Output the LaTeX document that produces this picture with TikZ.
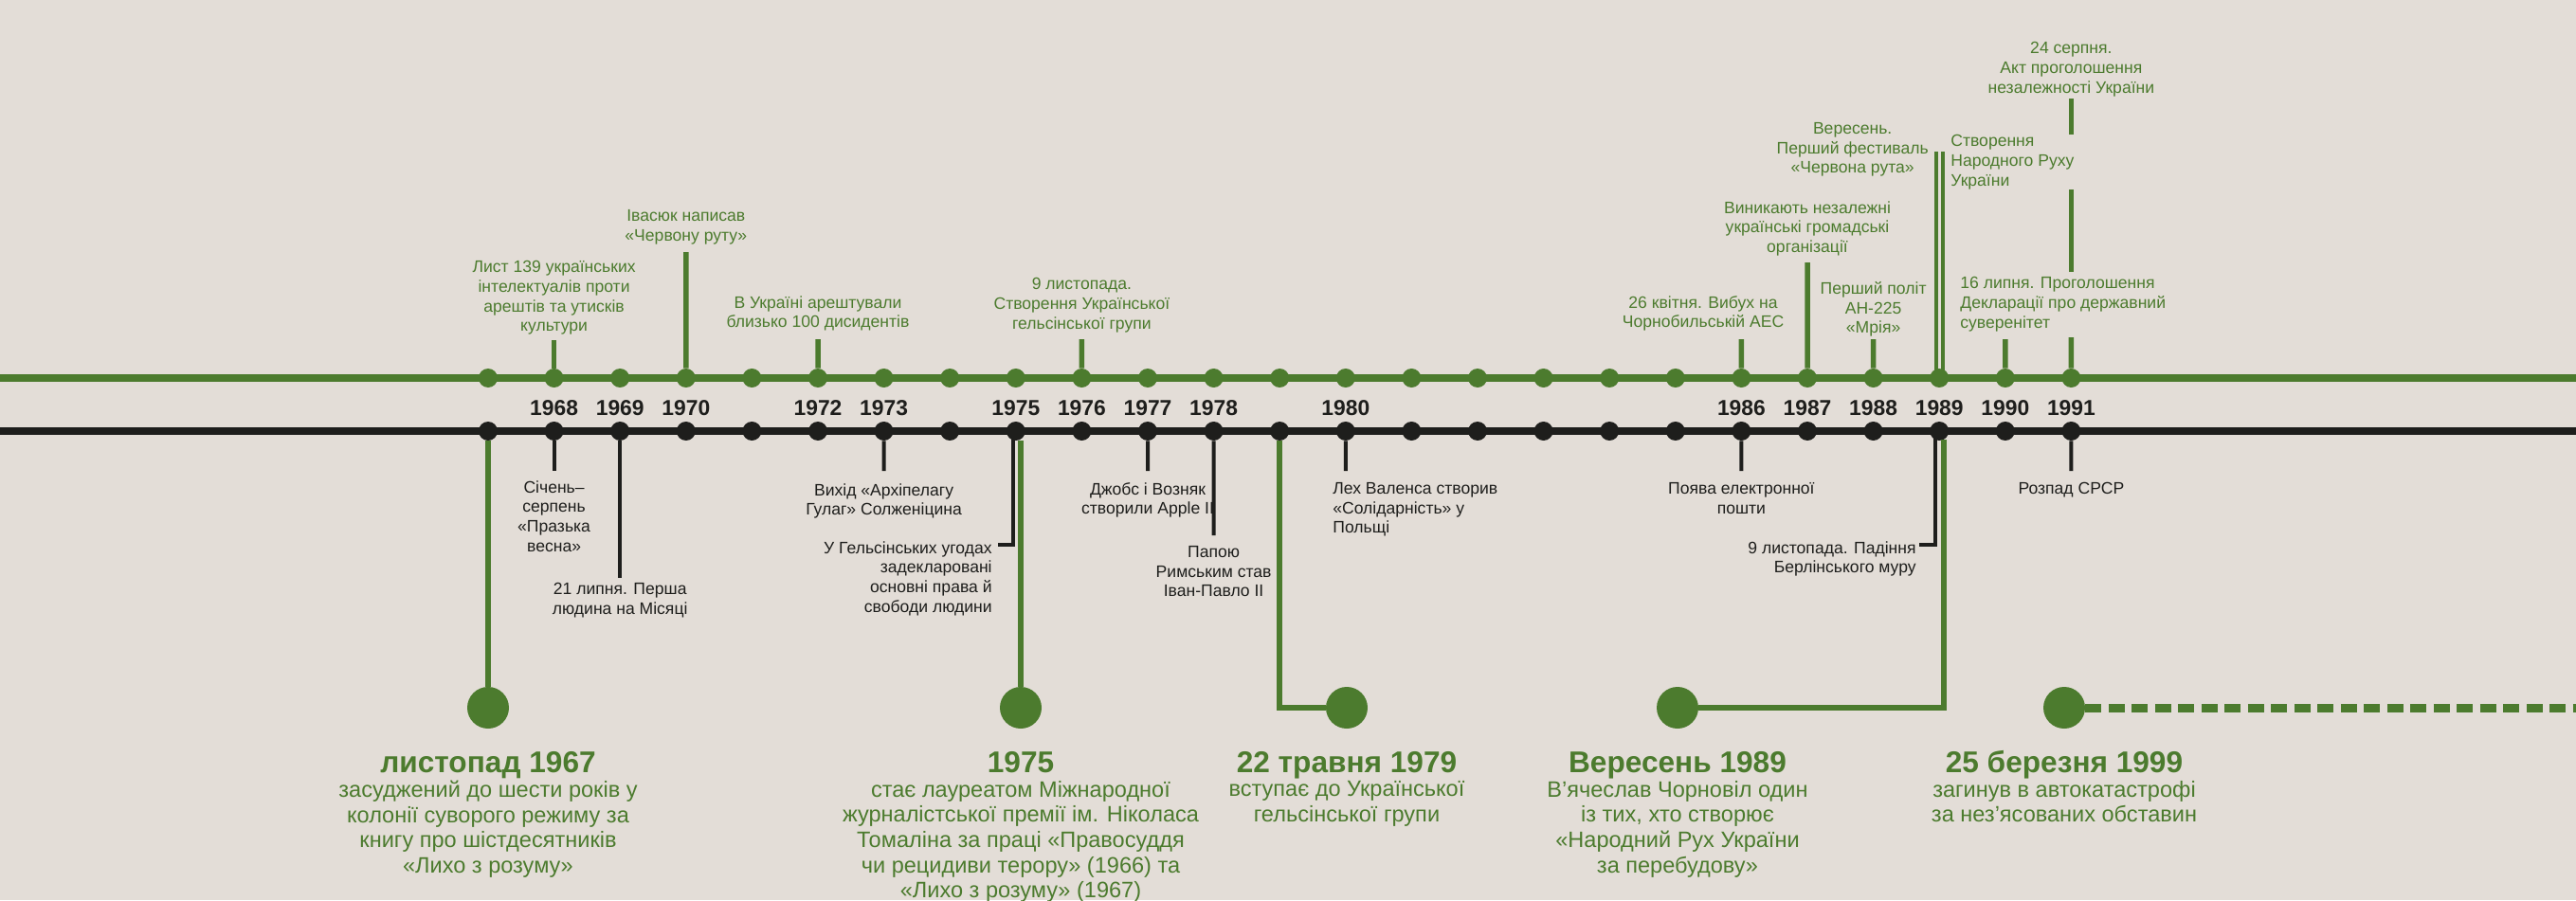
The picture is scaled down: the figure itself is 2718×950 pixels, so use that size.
\documentclass[tikz,border=0pt]{standalone}
\usepackage{fontspec}
\setmainfont{Liberation Sans}
\usepackage{xcolor}
\usepackage{tikz}
\usetikzlibrary{positioning,calc}
\definecolor{paper}{RGB}{227,221,215}
\definecolor{leaf}{RGB}{76,123,46}
\definecolor{soot}{RGB}{30,30,28}
\tikzstyle{gdot} = [circle, fill=leaf, inner sep=0pt, minimum size=4mm]
\tikzstyle{bdot} = [circle, fill=soot, inner sep=0pt, minimum size=4mm]
\tikzstyle{bigdot} = [circle, fill=leaf, inner sep=0pt, minimum size=8.8mm]
\tikzstyle{gline} = [draw=leaf, line width=1.7mm]
\tikzstyle{bline} = [draw=soot, line width=1.7mm]
\tikzstyle{gstem} = [draw=leaf, line width=1.1mm]
\tikzstyle{gtwin} = [draw=leaf, line width=0.65mm]
\tikzstyle{bstem} = [draw=soot, line width=0.8mm]
\tikzstyle{link} = [draw=leaf, line width=1.2mm]
\tikzstyle{dashlink} = [draw=leaf, line width=1.8mm, dash pattern=on 3.4mm off 1.5mm]
\tikzstyle{gnote} = [text=leaf, font=\fontsize{10}{11.8}\selectfont, inner sep=0pt, anchor=north, align=center]
\tikzstyle{bnote} = [text=soot, font=\fontsize{10}{11.8}\selectfont, inner sep=0pt, anchor=north, align=center]
\tikzstyle{yearlbl} = [text=soot, font=\bfseries\fontsize{13}{15}\selectfont, inner sep=0pt, anchor=base]
\tikzstyle{bighead} = [text=leaf, font=\bfseries\fontsize{18}{21}\selectfont, inner sep=0pt, anchor=base]
\tikzstyle{story} = [text=leaf, font=\fontsize{13.4}{15.1}\selectfont, inner sep=0pt, anchor=north, align=center]

\begin{document}
\begin{tikzpicture}[x=0.02cm, y=-0.02cm]
    \fill[paper] (0,0) rectangle (2718,950);
    \useasboundingbox (0,0) rectangle (2718,950);
    \coordinate (gl) at (0,399);
    \coordinate (gr) at (2718,399);
    \coordinate (bl) at (0,455);
    \coordinate (br) at (2718,455);
    \draw[gline] (gl) -- (gr);
    \draw[bline] (bl) -- (br);
    \foreach \yr in {1967,...,1991} {
        \node[gdot] (g\yr) at ({515+69.6*(\yr-1967)},399) {};
        \node[bdot] (b\yr) at ({515+69.6*(\yr-1967)},455) {};
    }
    \foreach \yr in {1968,1969,1970,1972,1973,1975,1976,1977,1978,1980,1986,1987,1988,1989,1990,1991}
        \node[yearlbl] (y\yr) at ({515+69.6*(\yr-1967)},438) {\yr};

    \node[gnote] (n1968) at (584.6,275) {Лист 139 українських\\інтелектуалів проти\\арештів та утисків\\культури};
    \coordinate (tu1968) at (584.6,359);
    \draw[gstem] (g1968) -- (tu1968);
    \node[gnote] (n1970) at (723.8,221) {Івасюк написав\\«Червону руту»};
    \coordinate (tu1970) at (723.8,266);
    \draw[gstem] (g1970) -- (tu1970);
    \node[gnote] (n1972) at (863,312) {В Україні арештували\\близько 100 дисидентів};
    \coordinate (tu1972) at (863,358);
    \draw[gstem] (g1972) -- (tu1972);
    \node[gnote] (n1976) at (1141.4,293) {9 листопада.\\Створення Української\\гельсінської групи};
    \coordinate (tu1976) at (1141.4,358);
    \draw[gstem] (g1976) -- (tu1976);
    \node[gnote] (n1986) at (1797,312) {26 квітня. Вибух на\\Чорнобильській АЕС};
    \coordinate (tu1986) at (1837.4,358);
    \draw[gstem] (g1986) -- (tu1986);
    \node[gnote] (n1987) at (1907,212) {Виникають незалежні\\українські громадські\\організації};
    \coordinate (tu1987) at (1907,277);
    \draw[gstem] (g1987) -- (tu1987);
    \node[gnote] (n1988) at (1976.6,297) {Перший політ\\АН-225\\«Мрія»};
    \coordinate (tu1988) at (1976.6,358);
    \draw[gstem] (g1988) -- (tu1988);
    \node[gnote, anchor=north east] (n1989a) at (2035,129) {Вересень.\\Перший фестиваль\\«Червона рута»};
    \node[gnote, anchor=north west, align=left] (n1989b) at (2058,142) {Створення\\Народного Руху\\України};
    \coordinate (tu1989a) at (2043,160);
    \coordinate (tu1989b) at (2050,160);
    \draw[gtwin] (tu1989a |- g1989) -- (tu1989a);
    \draw[gtwin] (tu1989b |- g1989) -- (tu1989b);
    \node[gnote, anchor=north west, align=left] (n1990) at (2068,292) {16 липня. Проголошення\\Декларації про державний\\суверенітет};
    \coordinate (tu1990) at (2115.8,358);
    \draw[gstem] (g1990) -- (tu1990);
    \node[gnote] (n1991) at (2185.4,44) {24 серпня.\\Акт проголошення\\незалежності України};
    \coordinate (k1) at (2185.4,356);
    \coordinate (k2) at (2185.4,287);
    \coordinate (k3) at (2185.4,200);
    \coordinate (k4) at (2185.4,142);
    \coordinate (k5) at (2185.4,104);
    \draw[gstem] (g1991) -- (k1);
    \draw[gstem] (k2) -- (k3);
    \draw[gstem] (k4) -- (k5);

    \node[bnote] (m1968) at (584.6,507) {Січень–\\серпень\\«Празька\\весна»};
    \coordinate (td1968) at (584.6,497);
    \draw[bstem] (b1968) -- (td1968);
    \node[bnote] (m1969) at (654.2,615) {21 липня. Перша\\людина на Місяці};
    \coordinate (td1969) at (654.2,610);
    \draw[bstem] (b1969) -- (td1969);
    \node[bnote] (m1973) at (932.6,510) {Вихід «Архіпелагу\\Гулаг» Солженіцина};
    \coordinate (td1973) at (932.6,497);
    \draw[bstem] (b1973) -- (td1973);
    \node[bnote, anchor=north east, align=right] (m1975) at (1047,571) {У Гельсінських угодах\\задекларовані\\основні права й\\свободи людини};
    \coordinate (td1975) at (1069,575);
    \coordinate (tk1975) at (1053,575);
    \draw[bstem] (b1975.center -| td1975) -- (td1975) -- (tk1975);
    \node[bnote] (m1977) at (1211,509) {Джобс і Возняк\\створили Apple II};
    \coordinate (td1977) at (1211,497);
    \draw[bstem] (b1977) -- (td1977);
    \node[bnote] (m1978) at (1280.6,576) {Папою\\Римським став\\Іван-Павло II};
    \coordinate (td1978) at (1280.6,565);
    \draw[bstem] (b1978) -- (td1978);
    \node[bnote, anchor=north west, align=left] (m1980) at (1406,509) {Лех Валенса створив\\«Солідарність» у\\Польщі};
    \coordinate (td1980) at (1419.8,497);
    \draw[bstem] (b1980) -- (td1980);
    \node[bnote] (m1986) at (1837.4,509) {Поява електронної\\пошти};
    \coordinate (td1986) at (1837.4,497);
    \draw[bstem] (b1986) -- (td1986);
    \node[bnote, anchor=north east, align=right] (m1989) at (2022,571) {9 листопада. Падіння\\Берлінського муру};
    \coordinate (td1989) at (2042,575);
    \coordinate (tk1989) at (2025,575);
    \draw[bstem] (b1989.center -| td1989) -- (td1989) -- (tk1989);
    \node[bnote] (m1991) at (2185.4,509) {Розпад СРСР};
    \coordinate (td1991) at (2185.4,497);
    \draw[bstem] (b1991) -- (td1991);

    \node[bigdot] (p1967) at (515,747) {};
    \node[bigdot] (p1975) at (1077,747) {};
    \node[bigdot] (p1979) at (1421,747) {};
    \node[bigdot] (p1989) at (1770,747) {};
    \node[bigdot] (p1999) at (2178,747) {};
    \draw[link] (b1967) -- (p1967);
    \draw[link] (b1975.south -| p1975) -- (p1975);
    \draw[link] (b1979) |- (p1979);
    \coordinate (v1989) at (2051,464);
    \draw[link] (v1989) |- (p1989);
    \coordinate (rim) at (2718,747);
    \draw[dashlink] (p1999) -- (rim);

    \node[bighead] (h1967) at (515,815) {листопад 1967};
    \node[story] (st1967) at (515,824) {засуджений до шести років у\\колонії суворого режиму за\\книгу про шістдесятників\\«Лихо з розуму»};
    \node[bighead] (h1975) at (1077,815) {1975};
    \node[story] (st1975) at (1077,824) {стає лауреатом Міжнародної\\журналістської премії ім. Ніколаса\\Томаліна за праці «Правосуддя\\чи рецидиви терору» (1966) та\\«Лихо з розуму» (1967)};
    \node[bighead] (h1979) at (1421,815) {22 травня 1979};
    \node[story] (st1979) at (1421,824) {вступає до Української\\гельсінської групи};
    \node[bighead] (h1989) at (1770,815) {Вересень 1989};
    \node[story] (st1989) at (1770,824) {В'ячеслав Чорновіл один\\із тих, хто створює\\«Народний Рух України\\за перебудову»};
    \node[bighead] (h1999) at (2178,815) {25 березня 1999};
    \node[story] (st1999) at (2178,824) {загинув в автокатастрофі\\за нез'ясованих обставин};
\end{tikzpicture}
\end{document}
